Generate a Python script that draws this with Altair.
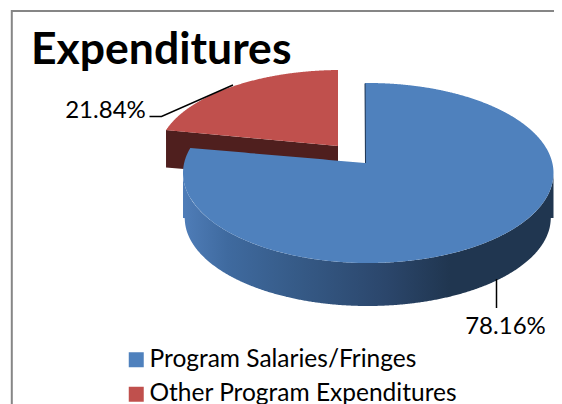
import altair as alt
import numpy as np
import pandas as pd

TITLE = "Expenditures"
categories = ["Program Salaries/Fringes", "Other Program Expenditures"]
shares = [78.16, 21.84]
colors = ["#4f81bd", "#c0504d"]
wall_stops = ["#4f7db8", "#3f6a9f", "#365b88", "#2b466b", "#203650", "#203650"]
wall_offsets = [0.0, 0.12, 0.3, 0.55, 0.72, 1.0]
red_wall_color = "#4f1f1e"
frame_color = "#868686"

W, H = 546, 396
X0, Y0 = 8, 8
xs = alt.Scale(domain=[X0, X0 + W], range=[0, W], nice=False, zero=False)
ys = alt.Scale(domain=[Y0 + H, Y0], nice=False, zero=False)
X = lambda f: alt.X(f, type="quantitative", scale=xs, axis=None)
Y = lambda f: alt.Y(f, type="quantitative", scale=ys, axis=None, stack=None)
X2 = lambda f: alt.X2(f)
Y2 = lambda f: alt.Y2(f)

# Perspective of the tilted disc
START = -1.0
END = START + 360 * shares[0] / 100
P = 1 / 9
s, c = np.sin(np.radians(END)), np.cos(np.radians(END))
rim_frac = s / (1 + P * c)


def ell(x, cx, cy, a, b, sign):
    t = np.clip((x - cx) / a, -1, 1)
    return cy + sign * b * np.sqrt(1 - t * t)


def grid(lo, hi, n=400):
    u = (1 - np.cos(np.linspace(0, np.pi, n))) / 2
    return lo + (hi - lo) * u


# Blue face
cx, cy, a, b = 368.25, 173.0, 185.25, 90.0
ay = 163.0
rim_x = cx + 184.5 * rim_frac
rim_y = ell(rim_x, cx, cy, a, b, -1)
start_x = cx + a * np.sin(np.radians(START))
ax = start_x - 0.02
left = grid(cx - a, rim_x, 40)
chord = np.linspace(rim_x, ax, 30)[1:]
right = grid(start_x, cx + a, 400)
bx = np.concatenate([left, chord, right])
up = np.concatenate([
    ell(left, cx, cy, a, b, -1),
    rim_y + (chord - rim_x) / (ax - rim_x) * (ay - rim_y),
    ell(right, cx, cy, a, b, -1),
])
lo = ell(bx, cx, cy, a, b, 1)
blue = pd.DataFrame({"x": bx, "y": up, "y2": lo, "cat": categories[0]})

# Blue side wall
wx = grid(cx - a, cx + a, 500)
wt = ell(wx, cx, cy, a, b, 1)
wb = np.maximum(ell(wx, cx - 0.5, 218.0, 183.0, 88.0, 1), wt)
wall = pd.DataFrame({"x": wx, "y": wt, "y2": wb})

# Red face
rcx, rcy, ra, rb = 341.0, 155.0, 183.0, 85.0
rax, ray = 338.0, 146.0
rrim_x = rcx + ra * rim_frac + 1.5
rx = grid(rrim_x, rax, 300)
ru = ell(rx, rcx, rcy, ra, rb, -1)
rrim_y = ru[0]
rl = rrim_y + (rx - rrim_x) / (rax - rrim_x) * (ray - rrim_y)
red = pd.DataFrame({"x": rx, "y": ru, "y2": rl, "cat": categories[1]})

# Red inner wall (its lower part is hidden by the blue slice)
rw = pd.DataFrame({
    "x": [rrim_x, rax],
    "y": [rrim_y, ray],
    "y2": [167.5, 182.0],
})

cat_color = alt.Color(
    "cat:N",
    scale=alt.Scale(domain=categories, range=colors),
    legend=alt.Legend(
        title=None, orient="none", legendX=116, legendY=339.5,
        symbolType="square", symbolSize=225, symbolStrokeWidth=0,
        labelFont="Lato", labelFontSize=24.5, labelColor="#000000",
        labelOffset=1, rowPadding=9.5, padding=0, labelLimit=400,
    ),
)

frame = pd.DataFrame({
    "x": [11.8, 11.8], "x2": [11.8, X0 + W],
    "y": [10, 11], "y2": [404, 11],
})
frame_l = alt.Chart(frame).mark_rule(color=frame_color, strokeWidth=2).encode(
    x=X("x"), x2=X2("x2"), y=Y("y"), y2=Y2("y2"))

red_wall = alt.Chart(rw).mark_area(color=red_wall_color).encode(x=X("x"), y=Y("y"), y2=Y2("y2"))
red_face = alt.Chart(red).mark_area().encode(
    x=X("x"), y=Y("y"), y2=Y2("y2"), color=cat_color)
blue_wall = alt.Chart(wall).mark_area(
    color=alt.Gradient(
        gradient="linear", x1=0, x2=1, y1=0, y2=0,
        stops=[alt.GradientStop(offset=o, color=k) for o, k in zip(wall_offsets, wall_stops)],
    )
).encode(x=X("x"), y=Y("y"), y2=Y2("y2"))
blue_face = alt.Chart(blue).mark_area().encode(
    x=X("x"), y=Y("y"), y2=Y2("y2"), color=cat_color)
inner = pd.DataFrame({"x": [start_x], "x2": [ax + 0.5], "y": [83.5], "y2": [ay]})
inner_l = alt.Chart(inner).mark_rule(color="#1f3552", strokeWidth=1).encode(
    x=X("x"), x2=X2("x2"), y=Y("y"), y2=Y2("y2"))

lead = pd.DataFrame({
    "x": [149.5, 161.5, 233.0, 496.5, 496.5],
    "y": [116.5, 116.5, 85.0, 279.0, 308.0],
    "g": ["a", "a", "a", "b", "b"],
    "i": [0, 1, 2, 0, 1],
})
leaders = alt.Chart(lead).mark_line(color="#000000", strokeWidth=1.5).encode(
    x=X("x"), y=Y("y"), detail="g:N", order="i:Q")

labels = pd.DataFrame({
    "x": [105.5, 505.5], "y": [118.0, 334.0],
    "t": [f"{shares[1]:.2f}%", f"{shares[0]:.2f}%"],
})
label_t = alt.Chart(labels).mark_text(
    font="Lato", fontSize=24, color="#000000", align="center", baseline="alphabetic"
).encode(x=X("x"), y=Y("y"), text="t:N")

chart = alt.layer(
    frame_l, red_wall, red_face, blue_wall, blue_face, inner_l, leaders, label_t
).properties(
    width=W, height=H,
    padding=0,
    autosize=alt.AutoSizeParams(type="none"),
    background="#ffffff",
    title=alt.TitleParams(
        TITLE, font="Lato", fontSize=44.5, fontWeight="bold", color="#000000",
        anchor="start", frame="group", orient="top", offset=0, dx=23, dy=100,
        baseline="alphabetic",
    ),
).configure_view(stroke=None)

chart.save("out.html", embed_options={"renderer": "svg", "actions": False})
